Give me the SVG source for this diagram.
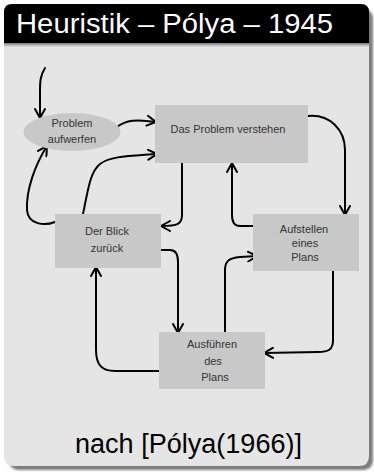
<svg xmlns="http://www.w3.org/2000/svg" width="374" height="474" viewBox="0 0 374 474">
<defs>
<style>
.box{fill:#c8c8c8}
.lbl{font-family:"Liberation Sans",Arial,sans-serif;font-size:11px;fill:#333;text-anchor:middle}
.c{fill:none;stroke:#000;stroke-width:2;stroke-linecap:round;stroke-linejoin:round}
.a{marker-end:url(#arr)}
</style>
<marker id="arr" markerUnits="userSpaceOnUse" viewBox="0 0 12 12" refX="10" refY="6" markerWidth="12" markerHeight="12" orient="auto">
<path d="M1,1 L10,6 L1,11" fill="none" stroke="#000" stroke-width="2" stroke-linecap="round" stroke-linejoin="miter"/>
</marker>
<filter id="sh" x="-5%" y="-5%" width="115%" height="115%">
<feGaussianBlur stdDeviation="1.2"/>
</filter>
<linearGradient id="hg" x1="0" y1="0" x2="0" y2="1">
<stop offset="0" stop-color="#7a7a7a"/>
<stop offset="1" stop-color="#e5e5e5"/>
</linearGradient>
</defs>
<rect width="374" height="474" fill="#ffffff"/>
<g id="frame">
<rect x="9" y="9" width="364" height="461" rx="9" fill="#7d7d7d" filter="url(#sh)"/>
<path d="M4,44 L369,44 L369,456 Q369,466 359,466 L14,466 Q4,466 4,456 Z" fill="#e5e5e5"/>
<path d="M4,44 L4,12 Q4,4 12,4 L361,4 Q369,4 369,12 L369,44 Z" fill="#000"/>
<rect x="4" y="43" width="365" height="4" fill="url(#hg)"/>
<text x="16" y="33" font-family="Liberation Sans,Arial,sans-serif" font-size="27" fill="#fff" textLength="317" lengthAdjust="spacingAndGlyphs">Heuristik – Pólya – 1945</text>
<text x="75" y="453" font-family="Liberation Sans,Arial,sans-serif" font-size="27" fill="#000" textLength="227" lengthAdjust="spacingAndGlyphs">nach [Pólya(1966)]</text>
</g>
<g id="connectors">
<path class="c a" d="M45,68 C40,76 40,82 40,92 L40,118"/>
<path class="c a" d="M117,127 C126,120 136,119 156,122"/>
<path class="c a" d="M83,214 C88,190 90,172 100,164 C110,156 130,156 157,154"/>
<path class="c a" d="M55,222 C45,226 28,225 27,210 C26,190 35,165 47,146"/>
<path class="c a" d="M182,163 L182,215 C182,224 178,226 161,226"/>
<path class="c a" d="M253,226 L240,226 C234,226 232,222 232,215 L232,163"/>
<path class="c a" d="M308,116 C330,114 345,130 345,150 L345,215"/>
<path class="c a" d="M333,271 L333,340 C333,350 328,352 318,352 L264,353"/>
<path class="c a" d="M159,371 L115,371 C102,371 96,365 96,350 L96,267"/>
<path class="c a" d="M161,250 L170,250 C176,250 178,255 178,262 L178,333"/>
<path class="c a" d="M225,332 L225,270 C225,262 228,258 240,257 L257,256"/>
</g>
<g id="problem-aufwerfen">
<ellipse class="box" cx="72" cy="132" rx="48.5" ry="19"/>
<text class="lbl" x="72" y="127">Problem</text>
<text class="lbl" x="72" y="143">aufwerfen</text>
</g>
<g id="das-problem-verstehen">
<rect class="box" x="155" y="105" width="153" height="58"/>
<text class="lbl" x="228" y="133">Das Problem verstehen</text>
</g>
<g id="der-blick-zurueck">
<rect class="box" x="55" y="214" width="106" height="54"/>
<text class="lbl" x="107" y="235">Der Blick</text>
<text class="lbl" x="107" y="252">zurück</text>
</g>
<g id="aufstellen">
<rect class="box" x="253" y="214" width="106" height="57"/>
<text class="lbl" x="304" y="233">Aufstellen</text>
<text class="lbl" x="305" y="247">eines</text>
<text class="lbl" x="305" y="261">Plans</text>
</g>
<g id="ausfuehren">
<rect class="box" x="159" y="332" width="106" height="57"/>
<text class="lbl" x="212" y="348">Ausführen</text>
<text class="lbl" x="213" y="365">des</text>
<text class="lbl" x="215" y="381">Plans</text>
</g>
</svg>
